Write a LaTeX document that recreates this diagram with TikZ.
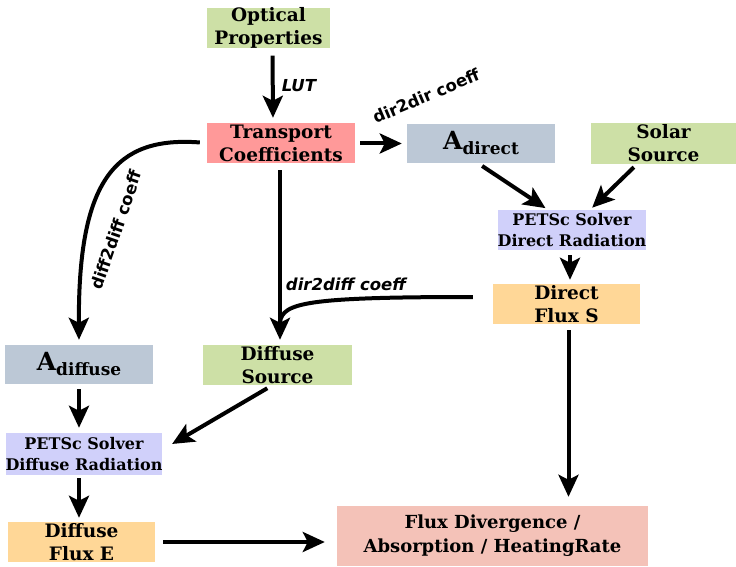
\documentclass[tikz,border=0pt]{standalone}
\usepackage{fontspec}
\newfontfamily\labelfont{DejaVu Sans}
\newfontfamily\boxfont{DejaVu Serif}
\usetikzlibrary{arrows.meta}

\definecolor{srcgreen}{RGB}{205,224,166}
\definecolor{coefred}{RGB}{255,153,153}
\definecolor{matblue}{RGB}{188,200,214}
\definecolor{solverlav}{RGB}{208,208,250}
\definecolor{fluxorange}{RGB}{255,215,151}
\definecolor{divpink}{RGB}{244,194,184}

\newcommand{\matname}[1]{{\fontsize{25}{25}\selectfont A}\raisebox{-5pt}{\fontsize{17}{17}\selectfont #1}}

\begin{document}
\begin{tikzpicture}[x=1pt,y=-1pt,
  box/.style={inner sep=0pt, align=center, minimum width=148pt, minimum height=40pt,
    font=\boxfont\bfseries\fontsize{18.5}{23}\selectfont},
  solver/.style={box, fill=solverlav, font=\boxfont\bfseries\fontsize{16}{21}\selectfont},
  flow/.style={line width=4pt, -{Stealth[length=22pt,width=20pt,inset=5pt]}},
  lbl/.style={font=\labelfont\bfseries\fontsize{16.5}{18}\selectfont, inner sep=1pt},
  ilbl/.style={lbl, font=\labelfont\bfseries\itshape\fontsize{16.5}{18}\selectfont}]
\useasboundingbox (0,0) rectangle (736,567);

% boxes
\node[box, fill=srcgreen, minimum width=123pt] (opt) at (268.5,28) {Optical\\Properties};
\node[box, fill=coefred] (trans) at (281,143) {Transport\\Coefficients};
\node[box, fill=matblue, minimum height=39pt] (adir) at (481,143.5) {\matname{direct}};
\node[box, fill=srcgreen, minimum width=145pt] (solar) at (663.5,143.5) {Solar\\Source};
\node[solver] (pdir) at (572,230) {PETSc Solver\\Direct Radiation};
\node[box, fill=fluxorange, minimum width=147pt] (dflux) at (566.5,304) {Direct\\Flux S};
\node[box, fill=matblue, minimum height=39pt] (adiff) at (79,364.5) {\matname{diffuse}};
\node[box, fill=srcgreen, minimum width=149pt] (dsrc) at (277.5,365) {Diffuse\\Source};
\node[solver, minimum width=152pt, minimum height=42pt] (pdiff) at (84,454) {PETSc Solver\\Diffuse Radiation};
\node[box, fill=fluxorange, minimum width=147pt] (dfluxe) at (81.5,542) {Diffuse\\Flux E};
\node[box, fill=divpink, minimum width=311pt, minimum height=60pt,
  font=\boxfont\bfseries\fontsize{18}{24}\selectfont] (fdiv) at (492.5,536)
  {Flux Divergence /\\Absorption / HeatingRate};

% connectors
\draw[flow, shorten <=7pt, shorten >=5pt] ([xshift=4pt]opt.south) -- ([xshift=-8pt]trans.north)
  node[ilbl, midway, right=6pt] (lut) {LUT};
\draw[flow, shorten <=5pt, shorten >=5pt] (trans.east |- adir.west) -- (adir.west);
\node[lbl, rotate=23] (d2d) at (426,96) {dir2dir coeff};

\draw[flow, shorten <=7pt, shorten >=5pt] (trans.west) .. controls (115,136) and (78,180) .. (adiff.north);
\node[lbl, rotate=71] (dd) at (116,230) {diff2diff coeff};

\coordinate (merge) at (280,322);
\draw[flow, shorten <=7pt, shorten >=5pt] (trans.south -| merge) -- (dsrc.north -| merge);
\draw[line width=4pt, shorten <=20pt] ([yshift=7pt]dflux.west) .. controls (305,297) and (283,303) .. (merge);
\node[ilbl] (d2df) at (346,284) {dir2diff coeff};

\draw[flow, shorten <=5pt, shorten >=3pt] ([xshift=-3pt]adir.south) -- ([xshift=-24pt]pdir.north);
\draw[flow, shorten <=5pt, shorten >=3pt] ([xshift=-26pt]solar.south) -- ([xshift=18pt]pdir.north);
\draw[flow, shorten <=5pt, shorten >=4pt] ([xshift=-2pt]pdir.south) -- ([xshift=-2pt]pdir.south |- dflux.north);
\draw[flow, shorten <=6pt, shorten >=9pt] ([xshift=2pt]dflux.south) -- ([xshift=2pt]dflux.south |- fdiv.north);

\draw[flow, shorten <=5pt, shorten >=5pt] (adiff.south) -- (adiff.south |- pdiff.north);
\draw[flow, shorten <=6pt, shorten >=4pt] ([xshift=-5pt]dsrc.south) -- ([xshift=6pt,yshift=8pt]pdiff.east);
\draw[flow, shorten <=3pt, shorten >=4pt] ([xshift=-5pt]pdiff.south) -- ([xshift=-5pt]pdiff.south |- dfluxe.north);
\draw[flow, shorten <=8pt, shorten >=12pt] (dfluxe.east) -- (dfluxe.east -| fdiv.west);
\end{tikzpicture}
\end{document}
